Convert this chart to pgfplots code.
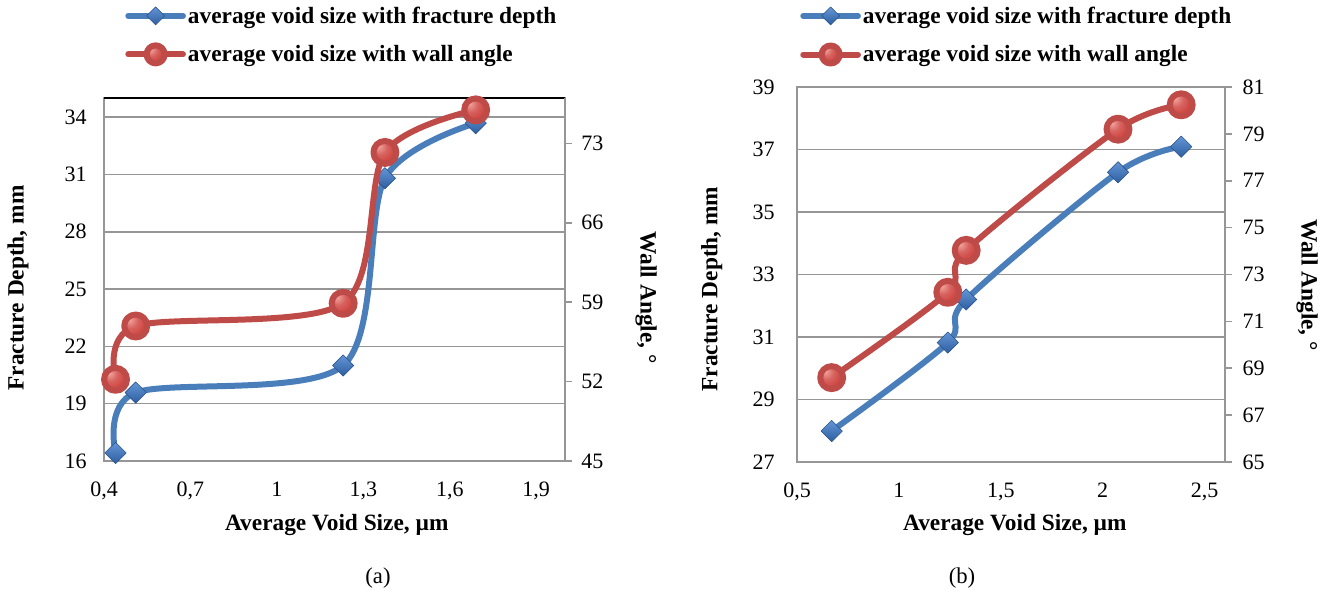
\documentclass[border=0pt]{standalone}
\usepackage{fontspec}
\setmainfont{Liberation Serif}
\usepackage{pgfplots}
\pgfplotsset{compat=1.18}
\definecolor{lineblue}{RGB}{74,126,187}
\definecolor{linered}{RGB}{190,75,72}
\definecolor{gridgray}{RGB}{150,150,150}
\definecolor{diamtop}{RGB}{100,150,215}
\definecolor{diambot}{RGB}{45,95,160}
\definecolor{diamedge}{RGB}{40,80,135}
\definecolor{ballred}{RGB}{205,60,55}
\definecolor{ballhi}{RGB}{245,170,165}
\pgfdeclareradialshading{redballshade}{\pgfpoint{-15bp}{15bp}}{color(0bp)=(ballhi); color(16bp)=(ballred!80!white); color(34bp)=(ballred); color(58bp)=(ballred!75!black); color(75bp)=(ballred!60!black)}
\pgfdeclareplotmark{bdiam}{\shadedraw[top color=diamtop,bottom color=diambot,draw=diamedge,line width=0.4pt] (0pt,\pgfplotmarksize) -- (\pgfplotmarksize,0pt) -- (0pt,-\pgfplotmarksize) -- (-\pgfplotmarksize,0pt) -- cycle;}
\pgfdeclareplotmark{rball}{\shade[shading=redballshade] (0pt,0pt) circle (\pgfplotmarksize);}
\pgfplotsset{
  base/.style={scale only axis, clip=false,
    axis line style={draw=gridgray, line width=1.2pt},
    tick style={draw=gridgray, line width=1.2pt},
    major tick length=0pt,
    major grid style={draw=gridgray, line width=1.2pt},
    tick label style={font=\fontsize{16.5}{18}\selectfont},
    label style={font=\bfseries\fontsize{17.5}{20}\selectfont},
    /pgf/number format/use comma,
    /pgf/number format/assume math mode=true,
    legend style={draw=none, fill=none, font=\bfseries\fontsize{17.5}{20}\selectfont,
      row sep=11.5pt, inner sep=0pt, nodes={inner sep=1.5pt}},
    legend cell align=left,
    legend image code/.code={\draw[mark repeat=2,mark phase=2,#1] plot coordinates {(0pt,0pt) (20.5pt,0pt) (41pt,0pt)};},
    legend image post style={mark size=6.75pt},
  },
  blueplot/.style={color=lineblue, line width=4.5pt, smooth, line cap=round, line join=round, mark=bdiam, mark size=8pt},
  redplot/.style={color=linered, line width=4.5pt, smooth, line cap=round, line join=round, mark=rball, mark size=8.6pt},
}
\begin{document}
\begin{tikzpicture}
\path[use as bounding box] (0,0) rectangle (998.25pt,448.5pt);
% ---------------- chart (a) ----------------
\begin{axis}[base, at={(78pt,102.75pt)}, anchor=south west, width=345.75pt, height=272.25pt,
  xmin=0.4, xmax=2.0, ymin=16, ymax=35,
  xtick={0.4,0.7,1,1.3,1.6,1.9}, ytick={16,19,22,25,28,31,34},
  ymajorgrids,
  yticklabel style={xshift=-9.5pt}, xticklabel style={yshift=-12pt},
  xlabel={Average Void Size, µm}, ylabel={Fracture Depth, mm},
  xlabel style={at={(axis description cs:0.505,-0.176)}, anchor=center},
  ylabel style={at={(axis description cs:-0.1866,0.4766)}, anchor=center},
]
\addplot[blueplot] coordinates {(0.44,16.42) (0.51,19.58) (1.23,21.0) (1.375,30.8) (1.69,33.68)};
\draw[black, line width=1.5pt] (rel axis cs:0,1) -- (rel axis cs:1,1);
\end{axis}
\begin{axis}[base, at={(78pt,102.75pt)}, anchor=south west, width=345.75pt, height=272.25pt,
  xmin=0.4, xmax=2.0, ymin=45, ymax=77,
  axis y line*=right, axis x line=none,
  ytick={45,52,59,66,73},
  tick align=outside, major tick length=5.25pt,
  yticklabel style={xshift=3.5pt},
  ylabel={Wall Angle, °},
  ylabel style={at={(axis description cs:1.176,0.45)}, anchor=center, rotate=180},
  legend style={at={(axis description cs:0.0456,1.258)}, anchor=north west},
]
\addlegendimage{blueplot}
\addlegendentry{average void size with fracture depth}
\addplot[redplot] coordinates {(0.44,52.2) (0.51,56.9) (1.23,58.9) (1.375,72.2) (1.69,75.95)};
\addlegendentry{average void size with wall angle}
\end{axis}
% ---------------- chart (b) ----------------
\begin{axis}[base, at={(597.75pt,102pt)}, anchor=south west, width=321pt, height=281.25pt,
  xmin=0.5, xmax=2.6, ymin=27, ymax=39,
  xtick={0.5,1,1.5,2,2.5}, ytick={27,29,31,33,35,37,39},
  ymajorgrids,
  yticklabel style={xshift=-13.3pt}, xticklabel style={yshift=-12pt},
  xlabel={Average Void Size, µm}, ylabel={Fracture Depth, mm},
  xlabel style={at={(axis description cs:0.509,-0.168)}, anchor=center},
  ylabel style={at={(axis description cs:-0.199,0.461)}, anchor=center},
]
\addplot[blueplot] coordinates {(0.67,27.99) (1.24,30.82) (1.33,32.2) (2.075,36.27) (2.385,37.09)};
\end{axis}
\begin{axis}[base, at={(597.75pt,102pt)}, anchor=south west, width=321pt, height=281.25pt,
  xmin=0.5, xmax=2.6, ymin=65, ymax=81,
  axis y line*=right, axis x line=none,
  ytick={65,67,69,71,73,75,77,79,81},
  tick align=outside, major tick length=5.25pt,
  yticklabel style={xshift=4.5pt},
  ylabel={Wall Angle, °},
  ylabel style={at={(axis description cs:1.192,0.472)}, anchor=center, rotate=180},
  legend style={at={(axis description cs:0.007,1.22)}, anchor=north west},
]
\addlegendimage{blueplot}
\addlegendentry{average void size with fracture depth}
\addplot[redplot] coordinates {(0.67,68.6) (1.24,72.24) (1.33,74.03) (2.075,79.2) (2.385,80.24)};
\addlegendentry{average void size with wall angle}
\end{axis}
\node[font=\fontsize{17}{20}\selectfont] at (283.5pt,15pt) {(a)};
\node[font=\fontsize{17}{20}\selectfont] at (721.5pt,15pt) {(b)};
\end{tikzpicture}
\end{document}
